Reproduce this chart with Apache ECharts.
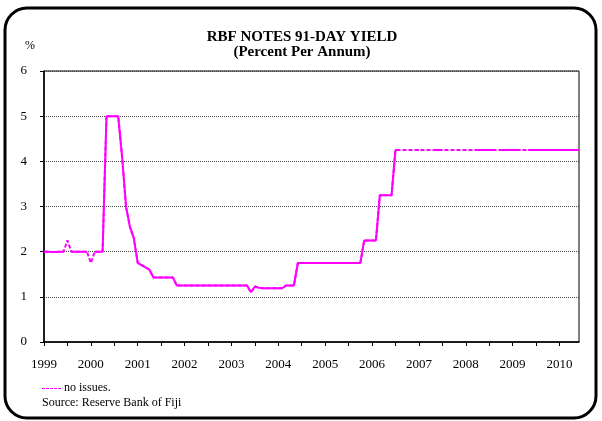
<!DOCTYPE html>
<html>
<head>
<meta charset="utf-8">
<script src="https://cdn.jsdelivr.net/npm/echarts@6/dist/echarts.min.js"></script>
<style>
html, body { margin: 0; padding: 0; background: #fff; }
#ct1 { width: 602px; height: 421px; }
</style>
</head>
<body>
<div id="ct1"></div>
<script>
// monthly 91-day yield, Jan 1999 .. Jun 2010 (percent per annum)
var startYear = 1999;
var y1999 = [2.00, 2.00, 1.99, 1.99, 2.00, 2.00, 2.25, 2.00, 2.00, 2.00, 2.00, 2.00];
var y2000 = [1.75, 2.00, 2.00, 2.00, 5.00, 5.00, 5.00, 5.00, 4.10, 3.00, 2.55, 2.30];
var y2001 = [1.75, 1.70, 1.65, 1.60, 1.43, 1.43, 1.43, 1.43, 1.43, 1.43, 1.25, 1.25];
var y2002 = [1.25, 1.25, 1.25, 1.25, 1.25, 1.25, 1.25, 1.25, 1.25, 1.25, 1.25, 1.25];
var y2003 = [1.25, 1.25, 1.25, 1.25, 1.25, 1.10, 1.23, 1.20, 1.19, 1.19, 1.19, 1.19];
var y2004 = [1.19, 1.19, 1.25, 1.25, 1.25, 1.75, 1.75, 1.75, 1.75, 1.75, 1.75, 1.75];
var y2005 = [1.75, 1.75, 1.75, 1.75, 1.75, 1.75, 1.75, 1.75, 1.75, 1.75, 2.25, 2.25];
var y2006 = [2.25, 2.25, 3.25, 3.25, 3.25, 3.25, 4.25, 4.25, 4.25, 4.25, 4.25, 4.25];
var y2007 = [4.25, 4.25, 4.25, 4.25, 4.25, 4.25, 4.25, 4.25, 4.25, 4.25, 4.25, 4.25];
var y2008 = [4.25, 4.25, 4.25, 4.25, 4.25, 4.25, 4.25, 4.25, 4.25, 4.25, 4.25, 4.25];
var y2009 = [4.25, 4.25, 4.25, 4.25, 4.25, 4.25, 4.25, 4.25, 4.25, 4.25, 4.25, 4.25];
var y2010 = [4.25, 4.25, 4.25, 4.25, 4.25, 4.25];
// months with no issues (index from Jan 1999), drawn dashed
var noIssue = [6, 12, 92, 94, 97, 99, 103, 104, 105, 106, 108, 110, 116, 123];

var yearData = [y1999, y2000, y2001, y2002, y2003, y2004, y2005, y2006, y2007, y2008, y2009, y2010];
var MAGENTA = '#ff00ff';
var FONT = 'Liberation Serif';

function $each(arr, fn) {
	for (var i = 0; i < arr.length; i++) fn(i, arr[i]);
}

var allPts = [], issuedPts = [];
$each(yearData, function(i, arr) {
	$each(arr, function(j, v) {
		var k = i * 12 + j;
		var x = startYear + k / 12;
		allPts.push([x, v]);
		issuedPts.push(noIssue.indexOf(k) >= 0 ? [x, null] : [x, v]);
	});
});
var lastX = allPts[allPts.length - 1][0];

var option1 = {
	animation: false,
	backgroundColor: '#fff',
	title: {
		text: 'RBF NOTES 91-DAY YIELD',
		subtext: '(Percent Per Annum)',
		left: 297,
		top: 25,
		textAlign: 'center',
		itemGap: 0,
		textStyle: { fontFamily: FONT, fontSize: 15, fontWeight: 'bold', color: '#000' },
		subtextStyle: { fontFamily: FONT, fontSize: 15, fontWeight: 'bold', color: '#000' }
	},
	grid: {
		left: 44, right: 23, top: 71, bottom: 79,
		show: true, borderColor: '#000', borderWidth: 1, backgroundColor: '#fff'
	},
	xAxis: {
		type: 'value',
		min: startYear,
		max: lastX,
		interval: 0.5,
		axisLine: { lineStyle: { color: '#000', width: 1.5 } },
		axisTick: { show: true, length: 4, lineStyle: { color: '#000' } },
		splitLine: { show: false },
		axisLabel: {
			margin: 16,
			fontFamily: FONT, fontSize: 13, color: '#000',
			showMaxLabel: false,
			formatter: function(v) {
				return Math.abs(v - Math.round(v)) < 1e-6 ? String(Math.round(v)) : '';
			}
		}
	},
	yAxis: {
		type: 'value',
		min: 0, max: 6, interval: 1,
		axisLine: { show: true, lineStyle: { color: '#000', width: 1.5 } },
		axisTick: { show: true, length: 4, lineStyle: { color: '#000' } },
		splitLine: { show: true, lineStyle: { color: '#444', type: [1, 1], width: 1 } },
		axisLabel: { margin: 17, fontFamily: FONT, fontSize: 13, color: '#000' }
	},
	series: [{
		name: 'no issues',
		type: 'line',
		data: allPts,
		symbol: 'none',
		lineStyle: { color: MAGENTA, width: 2, type: [4, 2] },
		z: 2
	}, {
		name: 'yield',
		type: 'line',
		data: issuedPts,
		symbol: 'none',
		connectNulls: false,
		lineStyle: { color: MAGENTA, width: 2 },
		z: 3
	}],
	graphic: [{
		type: 'rect',
		shape: { x: 5, y: 8, width: 591, height: 410, r: 22 },
		style: { fill: null, stroke: '#000', lineWidth: 3 },
		z: 100
	}, {
		type: 'text',
		left: 25, top: 40,
		style: { text: '%', fontFamily: FONT, fontSize: 12, fill: '#000' }
	}, {
		// legend key for the dashed "no issues" segments
		type: 'line',
		shape: { x1: 42, y1: 388.5, x2: 62, y2: 388.5 },
		style: { stroke: MAGENTA, lineWidth: 1, lineDash: [3, 1] }
	}, {
		type: 'text',
		left: 64, top: 382,
		style: { text: 'no issues.', fontFamily: FONT, fontSize: 12, fill: '#000' }
	}, {
		type: 'text',
		left: 42, top: 397,
		style: { text: 'Source: Reserve Bank of Fiji', fontFamily: FONT, fontSize: 12, fill: '#000' }
	}]
};

var myChart1 = echarts.init(document.getElementById('ct1'));
myChart1.setOption(option1, true);
</script>
</body>
</html>
